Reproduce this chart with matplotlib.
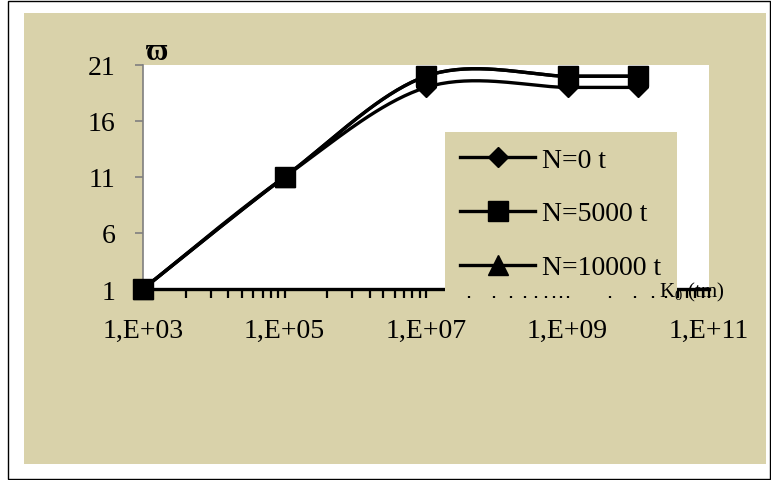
import numpy as np
import matplotlib
matplotlib.use("Agg")
import matplotlib.pyplot as plt
from matplotlib.patches import Rectangle
from matplotlib.ticker import FixedLocator, NullFormatter

plt.rcParams['font.family'] = ['Liberation Serif', 'DejaVu Serif']
plt.rcParams['mathtext.fontset'] = 'custom'
plt.rcParams['mathtext.rm'] = 'Liberation Serif'
plt.rcParams['mathtext.it'] = 'Liberation Serif:italic'

# stiffness K0 (tm) and the resulting omega for three axial loads
k0 = [1e3, 1e5, 1e7, 1e9, 1e10]
w_n0 = [1, 11, 19, 19, 19]
w_n5000 = [1, 11, 20, 20, 20]
w_n10000 = [1, 11, 20, 20, 20]
series_labels = ["N=0 t", "N=5000 t", "N=10000 t"]
series_markers = ["D", "s", "^"]

x_ticks = [1e3, 1e5, 1e7, 1e9, 1e11]
x_tick_labels = ["1,E+03", "1,E+05", "1,E+07", "1,E+09", "1,E+11"]
y_ticks = [1, 6, 11, 16, 21]

tan = "#D9D2AA"
W, H = 771, 481


def smooth(xs, ys, n=40):
    # spreadsheet-style smoothed line: cubic Bezier through every point,
    # built in log10(x) space since the x axis is logarithmic
    pts = np.column_stack([np.log10(xs), np.asarray(ys, float)])
    ext = np.vstack([pts[0], pts, pts[-1]])
    t = np.linspace(0, 1, n)[:, None]
    out = []
    for i in range(len(pts) - 1):
        p0, p1, p2, p3 = ext[i], ext[i + 1], ext[i + 2], ext[i + 3]
        c1 = p1 + (p2 - p0) / 6
        c2 = p2 - (p3 - p1) / 6
        seg = (1 - t)**3 * p1 + 3 * t * (1 - t)**2 * c1 + 3 * t**2 * (1 - t) * c2 + t**3 * p2
        out.append(seg if i == 0 else seg[1:])
    s = np.vstack(out)
    marks = [i * (n - 1) for i in range(len(pts))]
    return 10**s[:, 0], s[:, 1], marks


fig = plt.figure(figsize=(W / 100, H / 100), dpi=100)
fig.patch.set_facecolor("white")

# outer frame and tan chart area
fig.add_artist(Rectangle((8 / W, 1 - 480 / H), 762 / W, 478 / H, transform=fig.transFigure,
                         facecolor="white", edgecolor="black", lw=1.0, zorder=-2))
fig.add_artist(Rectangle((24 / W, 1 - 465 / H), 742 / W, 451 / H, transform=fig.transFigure,
                         facecolor=tan, edgecolor="none", zorder=-1))

ax = fig.add_axes([143 / W, 1 - 290 / H, 566 / W, 224 / H])
ax.set_facecolor("white")

sizes = {"D": 10.5, "s": 14, "^": 14}
for ys, lab, mk in zip([w_n0, w_n5000, w_n10000], series_labels, series_markers):
    sx, sy, marks = smooth(k0, ys)
    ax.plot(sx, sy, color="black", lw=2.4, marker=mk, markersize=sizes[mk],
            markevery=marks, markerfacecolor="black", markeredgecolor="black",
            label=lab, clip_on=False, zorder=3)

ax.set_xscale("log")
ax.set_xlim(1e3, 1e11)
ax.set_ylim(1, 21)

ax.xaxis.set_major_locator(FixedLocator(x_ticks))
ax.set_xticklabels(x_tick_labels)
minor = [n * n * d for d in [1e3, 1e5, 1e7, 1e9] for n in range(2, 10)]
ax.xaxis.set_minor_locator(FixedLocator(minor))
ax.xaxis.set_minor_formatter(NullFormatter())
ax.set_yticks(y_ticks)

for s in ["top", "right"]:
    ax.spines[s].set_visible(False)
ax.spines["bottom"].set_linewidth(2.4)
ax.spines["bottom"].set_color("black")
ax.spines["left"].set_linewidth(1.2)
ax.spines["left"].set_color("#7f7f7f")

ax.tick_params(axis="x", which="both", direction="out", length=6.5, width=1.6,
               color="black", labelsize=20, pad=14)
ax.tick_params(axis="y", which="major", direction="out", length=6, width=1.2,
               color="#7f7f7f", labelsize=20, pad=14)

leg = ax.legend(loc="upper left", bbox_to_anchor=(445 / W, 1 - 133 / H),
                bbox_transform=fig.transFigure, borderaxespad=0, fontsize=20,
                frameon=True, fancybox=False, framealpha=1, facecolor=tan,
                edgecolor="none", handlelength=2.7, handletextpad=0.25,
                borderpad=0.55, labelspacing=1.02, numpoints=1)
leg.set_zorder(5)

fig.text(146 / W, 1 - 60 / H, "\u03d6", fontsize=22, fontweight="bold",
         ha="left", va="baseline")
fig.text(659 / W, 1 - 297 / H, r"K$_{0}$ (tm)", fontsize=15, ha="left",
         va="baseline", zorder=1)

fig.savefig("out.png", dpi=100)
